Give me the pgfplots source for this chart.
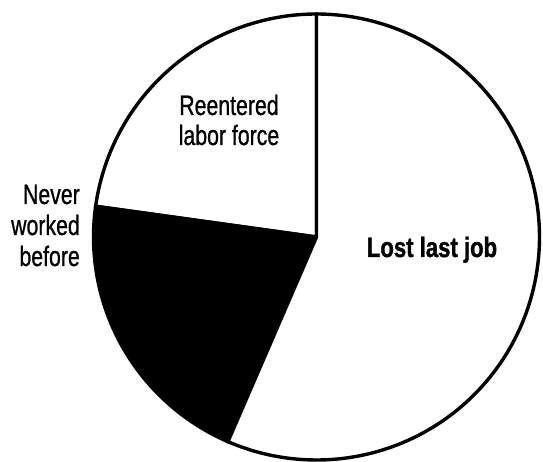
\documentclass[border=0pt]{standalone}
\usepackage{fontspec}
\setmainfont{Liberation Sans}[FakeStretch=0.76, FakeBold=0.8]
\newfontfamily\boldcond{Liberation Sans Bold}[FakeStretch=0.79, FakeBold=1.2]
\usepackage{pgfplots}
\usepackage{pgfplotstable}
\pgfplotsset{compat=1.18}

% shares of the unemployed (percent)
\pgfplotstableread{
label pct
Reentered 22.8
Never 20.7
Lost 56.5
}\piedata

\begin{document}
\begin{tikzpicture}
\pgfplotstablegetelem{0}{pct}\of\piedata \let\pR\pgfplotsretval
\pgfplotstablegetelem{1}{pct}\of\piedata \let\pN\pgfplotsretval
\pgfplotstablegetelem{2}{pct}\of\piedata \let\pL\pgfplotsretval
\pgfmathsetmacro{\aA}{90}
\pgfmathsetmacro{\aB}{\aA+3.6*\pR}
\pgfmathsetmacro{\aC}{\aB+3.6*\pN}
\pgfmathsetmacro{\aD}{\aC+3.6*\pL}
\def\cx{316.5}
\def\cy{225}
\def\rr{223}
\begin{axis}[
  scale only axis,
  width=543pt, height=462pt,
  xmin=0, xmax=543, ymin=0, ymax=462,
  hide axis,
  clip=false,
]
\addplot[draw=none, forget plot] coordinates {(0,0) (543,462)};
% Reentered labor force
\addplot[fill=white, draw=black, line width=3.4pt, line join=miter, domain=\aA:\aB, samples=80]
  ({\cx+\rr*cos(x)}, {\cy+\rr*sin(x)}) -- (axis cs:\cx,\cy) -- cycle;
% Never worked before
\addplot[fill=black, draw=black, line width=3.4pt, line join=miter, domain=\aB:\aC, samples=80]
  ({\cx+\rr*cos(x)}, {\cy+\rr*sin(x)}) -- (axis cs:\cx,\cy) -- cycle;
% Lost last job
\addplot[fill=white, draw=black, line width=3.4pt, line join=miter, domain=\aC:\aD, samples=160]
  ({\cx+\rr*cos(x)}, {\cy+\rr*sin(x)}) -- (axis cs:\cx,\cy) -- cycle;

\fontsize{28}{30}\selectfont
\node[anchor=base, inner sep=0pt] at (axis cs:229,347) {Reentered};
\node[anchor=base, inner sep=0pt] at (axis cs:229,317) {labor force};
\node[anchor=base east, inner sep=0pt] at (axis cs:80,258) {Never};
\node[anchor=base east, inner sep=0pt] at (axis cs:80,227) {worked};
\node[anchor=base east, inner sep=0pt] at (axis cs:80,196) {before};
\node[anchor=base, inner sep=0pt] at (axis cs:432,205) {\boldcond Lost last job};
\end{axis}
\end{tikzpicture}
\end{document}
